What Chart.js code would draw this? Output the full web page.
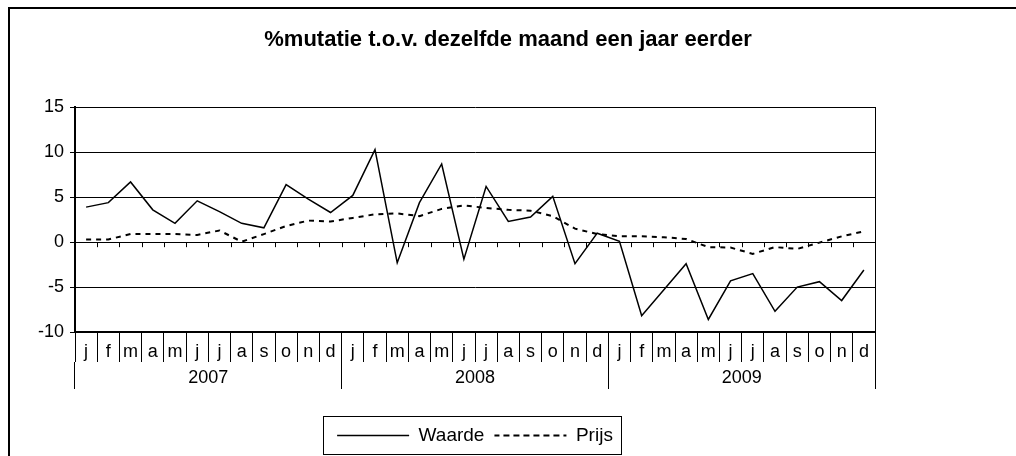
<!DOCTYPE html>
<html lang="nl">
<head>
  <meta charset="UTF-8" />
  <title>%mutatie t.o.v. dezelfde maand een jaar eerder</title>
  <script src="https://cdn.jsdelivr.net/npm/chart.js"></script>
  <style>
    html, body { margin: 0; padding: 0; background: #fff; overflow: hidden; }
    #wrap { position: relative; width: 1016px; height: 456px; }
    #frame {
      position: absolute; left: 8px; top: 7px; width: 1100px; height: 600px;
      border-left: 2px solid #000; border-top: 2px solid #000; pointer-events: none;
    }
  </style>
</head>
<body>
  <div id="wrap">
    <canvas id="chart" width="1016" height="456"></canvas>
    <div id="frame"></div>
  </div>

  <script>
    const monthLetters = ["j", "f", "m", "a", "m", "j", "j", "a", "s", "o", "n", "d"];
    const years = ["2007", "2008", "2009"];
    const months = [].concat(monthLetters, monthLetters, monthLetters);

    const waarde = [
      3.9, 4.4, 6.7, 3.6, 2.1, 4.6, 3.4, 2.1, 1.6, 6.4, 4.8, 3.3,
      5.2, 10.3, -2.3, 4.4, 8.7, -1.9, 6.2, 2.3, 2.8, 5.1, -2.4, 1.0,
      0.1, -8.2, -5.3, -2.4, -8.6, -4.3, -3.5, -7.7, -5.0, -4.4, -6.5, -3.1
    ];
    const prijs = [
      0.3, 0.3, 0.9, 0.9, 0.9, 0.8, 1.3, 0.05, 0.9, 1.8, 2.4, 2.3,
      2.7, 3.1, 3.2, 2.9, 3.7, 4.1, 3.8, 3.6, 3.5, 2.9, 1.5, 0.9,
      0.65, 0.65, 0.55, 0.35, -0.55, -0.6, -1.3, -0.55, -0.75, -0.05, 0.65, 1.2
    ];
    const yTicks = [-10, -5, 0, 5, 10, 15];

    Chart.defaults.font.family = "'Liberation Sans', Arial, sans-serif";
    Chart.defaults.color = "#000";

    // small tick marks along the 0 line + box round the legend
    const extras = {
      id: "extras",
      afterDraw(chart) {
        const ctx = chart.ctx;
        const x = chart.scales.x;
        const y0 = chart.scales.y.getPixelForValue(0);
        const step = x.getPixelForValue(1) - x.getPixelForValue(0);
        ctx.save();
        ctx.strokeStyle = "#000";
        ctx.lineWidth = 1;
        ctx.beginPath();
        for (let i = 1; i < months.length; i++) {
          const px = Math.round(x.getPixelForValue(i) - step / 2) + 0.5;
          ctx.moveTo(px, y0);
          ctx.lineTo(px, y0 + 5);
        }
        ctx.stroke();

        const hb = chart.legend.legendHitBoxes;
        if (hb && hb.length) {
          const first = hb[0], last = hb[hb.length - 1];
          const l = Math.round(first.left - 14) + 0.5;
          const r = Math.round(last.left + last.width + 8) + 0.5;
          const t = Math.round(first.top - 10) + 0.5;
          const b = Math.round(first.top + first.height + 9) + 0.5;
          ctx.strokeRect(l, t, r - l, b - t);
        }
        ctx.restore();
      }
    };

    new Chart(document.getElementById("chart"), {
      type: "line",
      data: {
        labels: months,
        datasets: [
          {
            label: "Waarde",
            data: waarde,
            borderColor: "#000",
            backgroundColor: "#000",
            borderWidth: 1.5,
            pointRadius: 0,
            tension: 0,
            xAxisID: "x",
            yAxisID: "y"
          },
          {
            label: "Prijs",
            data: prijs,
            borderColor: "#000",
            backgroundColor: "#000",
            borderWidth: 2,
            borderDash: [5, 5],
            pointRadius: 0,
            tension: 0,
            xAxisID: "x",
            yAxisID: "y"
          }
        ]
      },
      options: {
        responsive: false,
        animation: false,
        layout: { padding: { top: 0, left: 0, right: 0, bottom: 1 } },
        scales: {
          y: {
            min: -10,
            max: 15,
            afterBuildTicks: s => { s.ticks = yTicks.map(v => ({ value: v })); },
            afterFit: s => { s.width = 75; },
            grid: { color: "#000", lineWidth: 1, tickLength: 5 },
            border: { color: "#000", width: 2 },
            ticks: { font: { size: 18 }, color: "#000", padding: 6 }
          },
          yRight: {
            position: "right",
            afterFit: s => { s.width = 141; },
            grid: { display: false },
            border: { display: true, color: "#000", width: 1 },
            ticks: { display: false }
          },
          x: {
            type: "category",
            position: "bottom",
            offset: true,
            afterFit: s => { s.height = 30; },
            grid: { offset: true, drawOnChartArea: false, tickLength: 30, color: "#000" },
            border: { color: "#000", width: 2 },
            ticks: { font: { size: 18 }, color: "#000", padding: -21, maxRotation: 0, autoSkip: false }
          },
          years: {
            type: "category",
            labels: years,
            position: "bottom",
            offset: true,
            afterFit: s => { s.height = 54; },
            grid: { offset: true, drawOnChartArea: false, tickLength: 27, color: "#000" },
            border: { display: false },
            ticks: { font: { size: 18 }, color: "#000", padding: -22, maxRotation: 0 }
          }
        },
        plugins: {
          title: {
            display: true,
            text: "%mutatie t.o.v. dezelfde maand een jaar eerder",
            color: "#000",
            font: { size: 22, weight: "bold" },
            padding: { top: 27, bottom: 54 }
          },
          legend: {
            position: "bottom",
            fullSize: false,
            labels: {
              boxWidth: 72,
              boxHeight: 0,
              font: { size: 19 },
              color: "#000",
              padding: 10
            }
          },
          tooltip: { enabled: false }
        }
      },
      plugins: [extras]
    });
  </script>
</body>
</html>
